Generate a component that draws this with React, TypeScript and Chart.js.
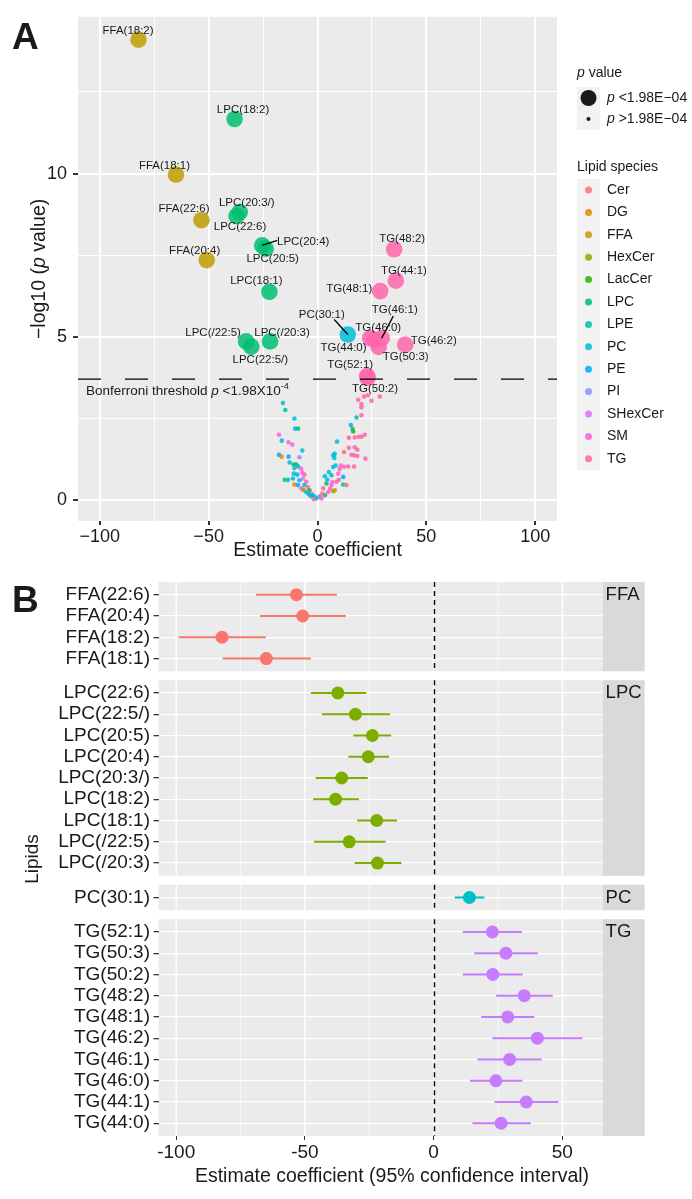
import React, { useEffect, useRef } from "react";
import { Chart, registerables } from "chart.js";

Chart.register(...registerables);

const FONT = '"Liberation Sans", Arial, Helvetica, sans-serif';
const INK = "#1a1a1a";
Chart.defaults.font.family = FONT;

// ---------- lipid classes (panel A colour legend)
const lipidClasses = ["Cer", "DG", "FFA", "HexCer", "LacCer", "LPC", "LPE", "PC", "PE", "PI", "SHexCer", "SM", "TG"];
const classColors = ["#F8766D", "#E18A00", "#BE9C00", "#8CAB00", "#24B700", "#00BE70", "#00C1AB", "#00BBDA", "#00ACFC", "#8B93FF", "#D575FE", "#F962DD", "#FF65AC"];

// ---------- significant lipids (panel B rows top→bottom, labelled in panel A)
const sigLipids = [
  "FFA(22:6)", "FFA(20:4)", "FFA(18:2)", "FFA(18:1)",
  "LPC(22:6)", "LPC(22:5/)", "LPC(20:5)", "LPC(20:4)", "LPC(20:3/)", "LPC(18:2)", "LPC(18:1)", "LPC(/22:5)", "LPC(/20:3)",
  "PC(30:1)",
  "TG(52:1)", "TG(50:3)", "TG(50:2)", "TG(48:2)", "TG(48:1)", "TG(46:2)", "TG(46:1)", "TG(46:0)", "TG(44:1)", "TG(44:0)",
];
const sigFacet = [
  "FFA", "FFA", "FFA", "FFA",
  "LPC", "LPC", "LPC", "LPC", "LPC", "LPC", "LPC", "LPC", "LPC",
  "PC",
  "TG", "TG", "TG", "TG", "TG", "TG", "TG", "TG", "TG", "TG",
];
const sigEstimate = [-53.3, -50.9, -82.2, -65.0, -37.2, -30.4, -23.8, -25.4, -35.7, -38.1, -22.1, -32.8, -21.8, 13.9, 22.8, 28.1, 23.0, 35.2, 28.8, 40.3, 29.5, 24.2, 36.0, 26.2];
const sigLower = [-69.0, -67.4, -99.0, -82.0, -47.7, -43.4, -31.2, -33.1, -45.8, -46.8, -29.7, -46.5, -30.7, 8.2, 11.3, 15.8, 11.3, 24.2, 18.5, 22.8, 17.0, 14.1, 23.7, 15.1];
const sigUpper = [-37.6, -34.1, -65.2, -47.7, -26.2, -17.0, -16.5, -17.3, -25.6, -29.0, -14.2, -18.7, -12.5, 19.7, 34.3, 40.5, 34.6, 46.3, 39.1, 57.8, 42.0, 34.5, 48.5, 37.7];
const sigNegLog10P = [8.57, 7.35, 14.1, 9.97, 8.70, 4.70, 7.70, 7.80, 8.82, 11.67, 6.38, 4.86, 4.86, 5.07, 3.80, 4.69, 3.74, 7.68, 6.40, 4.76, 4.96, 4.96, 6.72, 4.91];

// ---------- other (non-significant) lipids: small points in panel A
const otherClass = [
  "PC", "LPE", "PC", "PE", "LPC", "SM", "PC", "SM", "SM", "PE", "DG", "PE", "PI", "PC", "PC", "LPC", "LPC", "LPE", "PC", "SM",
  "LPE", "LPE", "DG", "PC", "PE", "SM", "TG", "PC", "PC", "SHexCer", "TG", "PE", "SM", "PC", "TG", "LacCer", "SM", "PC", "PC", "LPE",
  "PE", "PC", "PE", "LPE", "TG", "HexCer",
  "TG", "TG", "TG", "TG", "TG", "TG", "TG", "TG", "LPE", "PE", "LPC", "LacCer", "TG", "TG", "TG", "TG", "TG", "PC", "TG", "TG",
  "TG", "Cer", "TG", "TG", "TG", "TG", "PC", "PC", "PC", "PC", "SM", "TG", "TG", "TG", "PC", "PC", "SM", "PE", "PC", "TG",
  "LPE", "Cer", "LPC", "SM", "FFA", "FFA", "TG", "SM", "LPC", "TG", "Cer", "TG", "SM", "TG", "SHexCer", "PC", "TG", "PC",
];
const otherEstimate = [
  -15.9, -14.8, -10.6, -10.2, -8.9, -17.7, -16.4, -13.3, -11.6, -17.7, -16.5, -13.3, -8.3, -7.0, -12.8, -11.0, -9.8, -8.9, -10.6, -7.5,
  -15.1, -13.6, -10.6, -10.9, -9.3, -7.0, -6.0, -11.3, -8.3, -6.7, -5.2, -9.0, -7.5, -6.0, -4.4, -3.7, -2.9, -5.2, -2.2, -0.6,
  -1.4, 0.9, -4.0, -3.0, -1.8, -6.4,
  18.7, 21.4, 23.2, 24.8, 28.6, 20.2, 20.2, 20.2, 17.9, 15.3, 16.1, 16.4, 14.4, 17.1, 18.9, 20.2, 21.7, 9.0, 14.4, 17.1,
  18.3, 12.2, 15.6, 16.8, 18.3, 22.0, 7.9, 7.7, 8.3, 7.2, 10.7, 12.2, 14.1, 16.8, 5.2, 6.4, 9.5, 11.8, 3.4, 8.7,
  11.8, 13.3, 4.1, 6.4, 7.2, 7.9, 2.6, 4.9, 3.4, 1.8, 2.2, 5.8, 6.8, 9.8, 1.2, 4.5, 10.2, 7.2,
];
const otherNegLog10P = [
  2.97, 2.76, 2.50, 2.19, 2.19, 2.00, 1.82, 1.77, 1.70, 1.39, 1.33, 1.33, 1.31, 1.52, 1.15, 1.09, 1.09, 1.03, 0.98, 0.96,
  0.62, 0.62, 0.48, 0.81, 0.78, 0.84, 0.78, 0.66, 0.61, 0.66, 0.56, 0.46, 0.36, 0.46, 0.40, 0.30, 0.20, 0.25, 0.15, 0.05,
  0.10, 0.10, 0.18, 0.12, 0.03, 0.31,
  3.07, 3.17, 3.21, 3.04, 3.17, 2.94, 2.84, 2.60, 2.53, 2.30, 2.18, 2.10, 1.91, 1.92, 1.94, 1.94, 2.00, 1.79, 1.60, 1.62,
  1.54, 1.47, 1.39, 1.37, 1.35, 1.27, 1.42, 1.29, 1.06, 1.01, 1.06, 1.02, 1.03, 1.03, 0.86, 0.76, 0.81, 0.71, 0.73, 0.56,
  0.48, 0.46, 0.51, 0.46, 0.27, 0.30, 0.36, 0.25, 0.15, 0.05, 0.20, 0.35, 0.55, 0.62, 0.12, 0.62, 0.95, 1.37,
];

// ---------- facets of panel B
const facetNames = ["FFA", "LPC", "PC", "TG"];
const facetColors = ["#F8766D", "#7CAE00", "#00BFC4", "#C77CFF"];

// ---------- axes
const xTicksA = [-100, -75, -50, -25, 0, 25, 50, 75, 100];
const yTicksA = [0, 2.5, 5, 7.5, 10, 12.5];
const xTicksB = [-100, -75, -50, -25, 0, 25, 50];
const bonferroniP = 1.98e-4;

// ---------- label placement for panel A (pixel offsets from the point)
const labelLayout: Record<string, { dx: number; dy: number; lead?: [number, number] }> = {
  "FFA(18:2)": { dx: -10.5, dy: -9 },
  "LPC(18:2)": { dx: 8.5, dy: -9 },
  "FFA(18:1)": { dx: -11.5, dy: -9 },
  "FFA(22:6)": { dx: -17.5, dy: -11 },
  "LPC(20:3/)": { dx: 7, dy: -9 },
  "LPC(22:6)": { dx: 3.5, dy: 11 },
  "LPC(20:4)": { dx: 41, dy: -4, lead: [15, -5] },
  "LPC(20:5)": { dx: 7, dy: 10 },
  "FFA(20:4)": { dx: -12, dy: -9 },
  "LPC(18:1)": { dx: -13, dy: -11 },
  "LPC(/22:5)": { dx: -33, dy: -9 },
  "LPC(/20:3)": { dx: 12, dy: -9 },
  "LPC(22:5/)": { dx: 9, dy: 13 },
  "PC(30:1)": { dx: -26, dy: -20, lead: [-13.5, -15] },
  "TG(46:0)": { dx: 8, dy: -10 },
  "TG(46:1)": { dx: 13, dy: -28, lead: [11.5, -22] },
  "TG(44:0)": { dx: -31, dy: 8.5 },
  "TG(50:3)": { dx: 27, dy: 10 },
  "TG(46:2)": { dx: 28.5, dy: -4 },
  "TG(48:2)": { dx: 8, dy: -10 },
  "TG(44:1)": { dx: 8, dy: -10 },
  "TG(48:1)": { dx: -31, dy: -2 },
  "TG(52:1)": { dx: -17, dy: -11 },
  "TG(50:2)": { dx: 7.5, dy: 11 },
};

const hexA = (hex: string, a: number) => {
  const n = parseInt(hex.slice(1), 16);
  return `rgba(${(n >> 16) & 255},${(n >> 8) & 255},${n & 255},${a})`;
};
const classColor = (c: string, a = 0.85) => hexA(classColors[lipidClasses.indexOf(c)], a);

type Seg = { t: string; italic?: boolean; sup?: boolean };
function drawRich(ctx: CanvasRenderingContext2D, segs: Seg[], x: number, y: number, size: number, align: "left" | "center") {
  const fontFor = (s: Seg) => `${s.italic ? "italic " : ""}${s.sup ? size * 0.68 : size}px ${FONT}`;
  let total = 0;
  const widths = segs.map((s) => {
    ctx.font = fontFor(s);
    const w = ctx.measureText(s.t).width;
    total += w;
    return w;
  });
  let cx = align === "center" ? x - total / 2 : x;
  ctx.textAlign = "left";
  segs.forEach((s, i) => {
    ctx.font = fontFor(s);
    ctx.fillText(s.t, cx, s.sup ? y - size * 0.42 : y);
    cx += widths[i];
  });
}

const fmtMinus = (v: number) => (v < 0 ? "\u2212" + Math.abs(v) : String(v));

function Volcano() {
  const ref = useRef<HTMLCanvasElement>(null);
  useEffect(() => {
    const canvas = ref.current!;
    const thr = -Math.log10(bonferroniP);

    const plugA = {
      id: "plugA",
      beforeDraw(chart: any) {
        const { ctx, chartArea: a } = chart;
        ctx.save();
        ctx.fillStyle = "#EBEBEB";
        ctx.fillRect(a.left, a.top, a.right - a.left, a.bottom - a.top);
        ctx.restore();
      },
      afterDatasetsDraw(chart: any) {
        const { ctx, chartArea: a } = chart;
        const xs = chart.scales.x, ys = chart.scales.y;
        ctx.save();
        ctx.fillStyle = INK;
        ctx.textBaseline = "alphabetic";
        drawRich(ctx, [{ t: "Bonferroni threshold " }, { t: "p", italic: true }, { t: " <1.98X10" }, { t: "-4", sup: true }], a.left + 8, ys.getPixelForValue(thr) + 16, 13.5, "left");

        sigLipids.forEach((name, i) => {
          const px = xs.getPixelForValue(sigEstimate[i]);
          const py = ys.getPixelForValue(sigNegLog10P[i]);
          const L = labelLayout[name];
          if (L.lead) {
            ctx.strokeStyle = "#000";
            ctx.lineWidth = 1.3;
            ctx.beginPath();
            ctx.moveTo(px, py);
            ctx.lineTo(px + L.lead[0], py + L.lead[1]);
            ctx.stroke();
          }
          ctx.font = `11.5px ${FONT}`;
          ctx.textAlign = "center";
          ctx.textBaseline = "middle";
          ctx.fillStyle = INK;
          ctx.fillText(name, px + L.dx, py + L.dy);
        });
        ctx.restore();
      },
      afterDraw(chart: any) {
        const { ctx, chartArea: a } = chart;
        ctx.save();
        ctx.fillStyle = INK;
        // panel letter
        ctx.font = `bold 37px ${FONT}`;
        ctx.textAlign = "left";
        ctx.textBaseline = "alphabetic";
        ctx.fillText("A", 12, 49);
        // axis titles
        ctx.textBaseline = "middle";
        ctx.font = `19.5px ${FONT}`;
        ctx.textAlign = "center";
        ctx.fillText("Estimate coefficient", (a.left + a.right) / 2, 551);
        ctx.save();
        ctx.translate(40, (a.top + a.bottom) / 2);
        ctx.rotate(-Math.PI / 2);
        drawRich(ctx, [{ t: "\u2212log10 (" }, { t: "p", italic: true }, { t: " value)" }], 0, 0, 19.5, "center");
        ctx.restore();

        // legend: p value
        const lx = 577;
        ctx.textBaseline = "middle";
        drawRich(ctx, [{ t: "p", italic: true }, { t: " value" }], lx, 73, 14, "left");
        ctx.fillStyle = "#F2F2F2";
        ctx.fillRect(lx, 87, 23, 43);
        ctx.fillStyle = INK;
        ctx.beginPath();
        ctx.arc(lx + 11.5, 98, 8, 0, Math.PI * 2);
        ctx.fill();
        ctx.beginPath();
        ctx.arc(lx + 11.5, 119, 2, 0, Math.PI * 2);
        ctx.fill();
        drawRich(ctx, [{ t: "p", italic: true }, { t: " <1.98E\u221204" }], 607, 98, 14, "left");
        drawRich(ctx, [{ t: "p", italic: true }, { t: " >1.98E\u221204" }], 607, 119.5, 14, "left");

        // legend: lipid species
        ctx.font = `14px ${FONT}`;
        ctx.fillText("Lipid species", lx, 167);
        const step = 22.4;
        ctx.fillStyle = "#F2F2F2";
        ctx.fillRect(lx, 179, 23, lipidClasses.length * step);
        lipidClasses.forEach((c, k) => {
          const y = 190 + k * step;
          ctx.fillStyle = classColor(c);
          ctx.beginPath();
          ctx.arc(lx + 11.5, y, 3.5, 0, Math.PI * 2);
          ctx.fill();
          ctx.fillStyle = INK;
          ctx.font = `14px ${FONT}`;
          ctx.fillText(c, 607, y);
        });
        ctx.restore();
      },
    };

    const chart = new Chart(canvas, {
      type: "scatter",
      data: {
        datasets: [
          {
            data: [{ x: xTicksA[0] - 10, y: thr }, { x: xTicksA[xTicksA.length - 1] + 10, y: thr }],
            showLine: true,
            borderColor: "#000",
            borderWidth: 1.3,
            borderDash: [23, 24],
            pointRadius: 0,
            order: 0,
          } as any,
          {
            data: sigLipids.map((_, i) => ({ x: sigEstimate[i], y: sigNegLog10P[i] })),
            backgroundColor: sigFacet.map((f) => classColor(f)),
            borderWidth: 0,
            pointRadius: 8.3,
            order: 1,
          },
          {
            data: otherClass.map((_, i) => ({ x: otherEstimate[i], y: otherNegLog10P[i] })),
            backgroundColor: otherClass.map((c) => classColor(c)),
            borderWidth: 0,
            pointRadius: 2.3,
            order: 2,
          },
        ],
      },
      options: {
        animation: false,
        responsive: false,
        layout: { padding: { left: 0, right: 135, top: 13, bottom: 0 } },
        plugins: { legend: { display: false }, tooltip: { enabled: false } },
        scales: {
          x: {
            type: "linear",
            min: -110,
            max: 110,
            afterBuildTicks: (s: any) => {
              s.ticks = xTicksA.map((v) => ({ value: v }));
            },
            afterFit: (s: any) => {
              s.height = 39;
            },
            ticks: {
              autoSkip: false,
              maxRotation: 0,
              padding: 1,
              color: INK,
              font: { size: 18 },
              callback: (v: any) => (Number(v) % 50 === 0 ? fmtMinus(Number(v)) : ""),
            },
            grid: {
              color: "#ffffff",
              lineWidth: (c: any) => (c.tick && c.tick.value % 50 === 0 ? 2 : 1),
              tickColor: (c: any) => (c.tick && c.tick.value % 50 === 0 ? "#333333" : "rgba(0,0,0,0)"),
              tickLength: 4,
            },
            border: { display: false },
          },
          y: {
            type: "linear",
            min: -0.64,
            max: 14.8,
            afterBuildTicks: (s: any) => {
              s.ticks = yTicksA.map((v) => ({ value: v }));
            },
            afterFit: (s: any) => {
              s.width = 78;
            },
            ticks: {
              autoSkip: false,
              padding: 6,
              color: INK,
              font: { size: 18 },
              callback: (v: any) => (Number(v) % 5 === 0 ? String(v) : ""),
            },
            grid: {
              color: "#ffffff",
              lineWidth: (c: any) => (c.tick && c.tick.value % 5 === 0 ? 2 : 1),
              tickColor: (c: any) => (c.tick && c.tick.value % 5 === 0 ? "#333333" : "rgba(0,0,0,0)"),
              tickLength: 5,
            },
            border: { display: false },
          },
        },
      } as any,
      plugins: [plugA],
    });
    return () => chart.destroy();
  }, []);
  return <canvas ref={ref} width={692} height={560} style={{ display: "block" }} />;
}

function Forest() {
  const ref = useRef<HTMLCanvasElement>(null);
  useEffect(() => {
    const canvas = ref.current!;
    const GAP = 0.42;
    const rowPos: number[] = [];
    const panelRanges: [number, number][] = [];
    let cursor = 0;
    facetNames.forEach((f) => {
      const idx = sigFacet.map((g, i) => (g === f ? i : -1)).filter((i) => i >= 0);
      const start = cursor;
      idx.forEach((i, k) => {
        rowPos[i] = start + 0.6 + k;
      });
      const end = start + idx.length - 1 + 1.2;
      panelRanges.push([start, end]);
      cursor = end + GAP;
    });
    const yMax = cursor - GAP;
    const lo = Math.min(...sigLower), hi = Math.max(...sigUpper);
    const pad = (hi - lo) * 0.05;
    const STRIP = 42;

    const plugB = {
      id: "plugB",
      beforeDraw(chart: any) {
        const { ctx, chartArea: a } = chart;
        const xs = chart.scales.x, ys = chart.scales.y;
        ctx.save();
        panelRanges.forEach(([s, e], fi) => {
          const top = ys.getPixelForValue(s), bot = ys.getPixelForValue(e);
          ctx.fillStyle = "#EBEBEB";
          ctx.fillRect(a.left, top, a.right - a.left, bot - top);
          ctx.fillStyle = "#D9D9D9";
          ctx.fillRect(a.right, top, STRIP, bot - top);
          xTicksB.forEach((v) => {
            const x = xs.getPixelForValue(v);
            ctx.strokeStyle = "#ffffff";
            ctx.lineWidth = v % 50 === 0 ? 1.3 : 0.7;
            ctx.beginPath();
            ctx.moveTo(x, top);
            ctx.lineTo(x, bot);
            ctx.stroke();
          });
          ctx.fillStyle = INK;
          ctx.font = `18.5px ${FONT}`;
          ctx.textAlign = "left";
          ctx.textBaseline = "alphabetic";
          ctx.fillText(facetNames[fi], a.right + 3, top + 18);
        });
        ctx.restore();
      },
      beforeDatasetsDraw(chart: any) {
        const { ctx } = chart;
        const xs = chart.scales.x, ys = chart.scales.y;
        const x0 = Math.round(xs.getPixelForValue(0)) + 0.5;
        ctx.save();
        ctx.strokeStyle = "#000";
        ctx.lineWidth = 1.4;
        ctx.setLineDash([5, 4]);
        panelRanges.forEach(([s, e]) => {
          ctx.beginPath();
          ctx.moveTo(x0, ys.getPixelForValue(s));
          ctx.lineTo(x0, ys.getPixelForValue(e));
          ctx.stroke();
        });
        ctx.restore();
      },
      afterDraw(chart: any) {
        const { ctx, chartArea: a } = chart;
        ctx.save();
        ctx.fillStyle = INK;
        ctx.font = `bold 37px ${FONT}`;
        ctx.textAlign = "left";
        ctx.textBaseline = "alphabetic";
        ctx.fillText("B", 12, 47);
        ctx.font = `19.5px ${FONT}`;
        ctx.textAlign = "center";
        ctx.textBaseline = "middle";
        ctx.fillText("Estimate coefficient (95% confidence interval)", 392, 612);
        ctx.save();
        ctx.translate(33, (a.top + a.bottom) / 2);
        ctx.rotate(-Math.PI / 2);
        ctx.font = `19px ${FONT}`;
        ctx.fillText("Lipids", 0, 0);
        ctx.restore();
        ctx.restore();
      },
    };

    const errorSets = sigLipids.map((_, i) => ({
      data: [{ x: sigLower[i], y: rowPos[i] }, { x: sigUpper[i], y: rowPos[i] }],
      showLine: true,
      borderColor: facetColors[facetNames.indexOf(sigFacet[i])],
      borderWidth: 2,
      pointRadius: 0,
      order: 2,
    }));
    const pointSets = facetNames.map((f, fi) => ({
      data: sigLipids.map((_, i) => i).filter((i) => sigFacet[i] === f).map((i) => ({ x: sigEstimate[i], y: rowPos[i] })),
      backgroundColor: facetColors[fi],
      borderWidth: 0,
      pointRadius: 6.5,
      order: 1,
    }));

    const chart = new Chart(canvas, {
      type: "scatter",
      data: { datasets: [...pointSets, ...errorSets] as any },
      options: {
        animation: false,
        responsive: false,
        layout: { padding: { left: 0, right: 692 - 602.6, top: 17, bottom: 0 } },
        plugins: { legend: { display: false }, tooltip: { enabled: false } },
        scales: {
          x: {
            type: "linear",
            min: lo - pad,
            max: hi + pad,
            afterBuildTicks: (s: any) => {
              s.ticks = xTicksB.map((v) => ({ value: v }));
            },
            afterFit: (s: any) => {
              s.height = 63;
            },
            ticks: {
              autoSkip: false,
              maxRotation: 0,
              padding: 1,
              color: INK,
              font: { size: 19 },
              callback: (v: any) => (Number(v) % 50 === 0 ? String(v) : ""),
            },
            grid: {
              drawOnChartArea: false,
              tickColor: (c: any) => (c.tick && c.tick.value % 50 === 0 ? "#333333" : "rgba(0,0,0,0)"),
              tickLength: 4,
            },
            border: { display: false },
          },
          y: {
            type: "linear",
            min: 0,
            max: yMax,
            reverse: true,
            afterBuildTicks: (s: any) => {
              s.ticks = rowPos.map((v) => ({ value: v }));
            },
            afterFit: (s: any) => {
              s.width = 158.6;
            },
            ticks: {
              autoSkip: false,
              padding: 3.6,
              color: INK,
              font: { size: 19 },
              callback: (_v: any, i: number) => sigLipids[i],
            },
            grid: {
              color: "#ffffff",
              lineWidth: 1.3,
              tickColor: "#333333",
              tickLength: 5,
            },
            border: { display: false },
          },
        },
      } as any,
      plugins: [plugB],
    });
    return () => chart.destroy();
  }, []);
  return <canvas ref={ref} width={692} height={634} style={{ display: "block" }} />;
}

export default function App() {
  return (
    <div style={{ position: "absolute", left: 0, top: 0, width: 692, height: 1199, background: "#ffffff" }}>
      <div style={{ position: "absolute", left: 0, top: 0 }}>
        <Volcano />
      </div>
      <div style={{ position: "absolute", left: 0, top: 565 }}>
        <Forest />
      </div>
    </div>
  );
}
